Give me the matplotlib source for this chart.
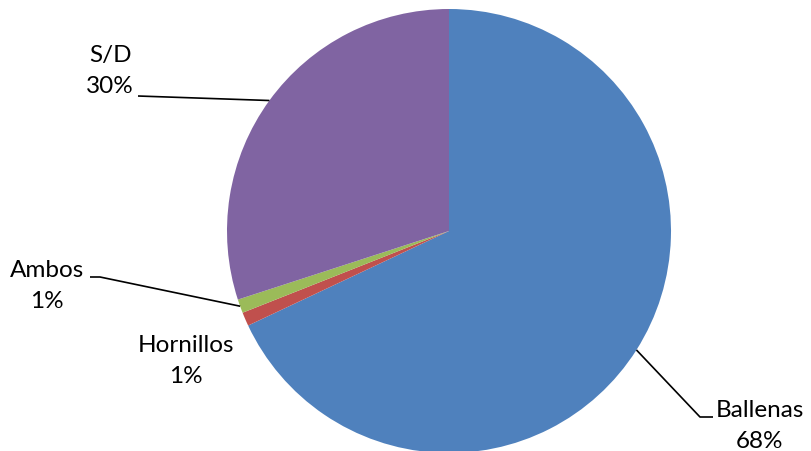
import numpy as np
import matplotlib
matplotlib.use("Agg")
import matplotlib.pyplot as plt

# Share of records by location
categories = ["Ballenas", "Hornillos", "Ambos", "S/D"]
shares = [68, 1, 1, 30]
colors = ["#4F81BD", "#C0504D", "#9BBB59", "#8064A2"]

W, H = 812, 452
fig = plt.figure(figsize=(W / 100, H / 100), dpi=100)
ax = fig.add_axes([0, 0, 1, 1])

cx, cy, r = 449, H - 232, 222
wedges, _ = ax.pie(shares, colors=colors, startangle=90, counterclock=False,
                   center=(cx, cy), radius=r, frame=True,
                   wedgeprops=dict(linewidth=0))
ax.set_xlim(0, W)
ax.set_ylim(0, H)
ax.set_aspect("equal")
ax.axis("off")

font = dict(family=["Lato", "DejaVu Sans"], fontsize=17.5, color="black")

# label centre (x, y from top) and optional leader elbow / end points
layout = {
    "Ballenas": dict(pos=(760, 426), elbow=(700, 418), end=(713, 418)),
    "Hornillos": dict(pos=(186, 361)),
    "Ambos": dict(pos=(47, 286), elbow=(100, 278), end=(90, 278)),
    "S/D": dict(pos=(110, 71), elbow=None, end=(138, 97)),
}

for w, name, val in zip(wedges, categories, shares):
    spec = layout[name]
    tx, ty = spec["pos"]
    ax.text(tx, H - ty, f"{name}\n{val}%", ha="center", va="center",
            linespacing=1.6, **font)
    if "end" in spec:
        mid = np.deg2rad((w.theta1 + w.theta2) / 2)
        ax_pt = (cx + r * np.cos(mid), cy + r * np.sin(mid))
        pts = [ax_pt]
        if spec.get("elbow") is not None:
            ex, ey = spec["elbow"]
            pts.append((ex, H - ey))
        ex, ey = spec["end"]
        pts.append((ex, H - ey))
        xs, ys = zip(*pts)
        ax.plot(xs, ys, color="black", lw=1.2, solid_capstyle="butt")

fig.savefig("out.png", dpi=100)
